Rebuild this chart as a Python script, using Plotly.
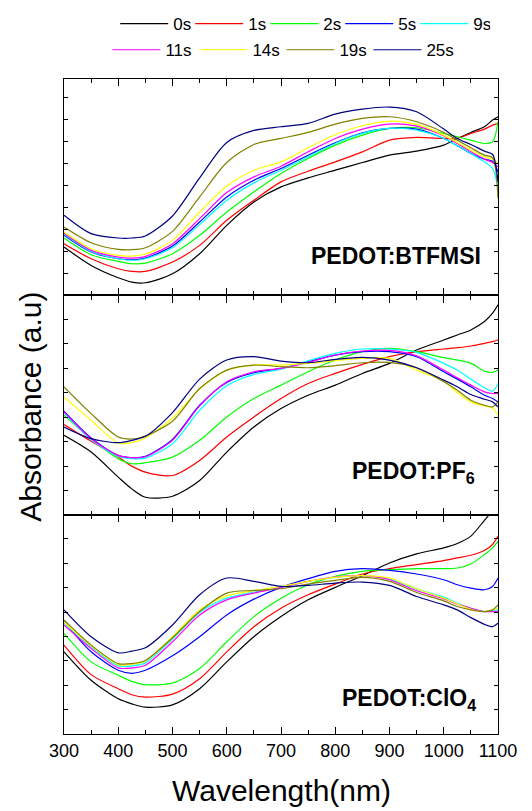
import plotly.graph_objects as go
from plotly.subplots import make_subplots

wavelength = [300, 350, 400, 425, 450, 500, 550, 600, 650, 700, 750, 800, 850, 900, 950, 1000, 1025, 1050, 1075, 1090, 1100]
times = ["0s", "1s", "2s", "5s", "9s", "11s", "14s", "19s", "25s"]
colors = ["#000000", "#FF0000", "#00FF00", "#0000FF", "#00FFFF", "#FF00FF", "#FFFF00", "#808000", "#000080"]

# PEDOT:BTFMSI (top panel), absorbance in arbitrary units
btfmsi = {
    "0s":  [0.145, 0.090, 0.053, 0.040, 0.038, 0.065, 0.125, 0.210, 0.280, 0.325, 0.352, 0.375, 0.398, 0.420, 0.432, 0.450, 0.470, 0.488, 0.505, 0.525, 0.535],
    "1s":  [0.155, 0.110, 0.080, 0.072, 0.072, 0.100, 0.150, 0.225, 0.285, 0.340, 0.372, 0.400, 0.430, 0.465, 0.473, 0.470, 0.470, 0.485, 0.498, 0.510, 0.515],
    "2s":  [0.172, 0.122, 0.102, 0.095, 0.097, 0.125, 0.180, 0.250, 0.310, 0.365, 0.410, 0.450, 0.480, 0.500, 0.502, 0.485, 0.475, 0.465, 0.455, 0.460, 0.520],
    "5s":  [0.180, 0.130, 0.110, 0.107, 0.112, 0.148, 0.220, 0.295, 0.345, 0.380, 0.420, 0.457, 0.487, 0.500, 0.498, 0.470, 0.448, 0.425, 0.408, 0.402, 0.370],
    "9s":  [0.183, 0.132, 0.110, 0.105, 0.110, 0.143, 0.212, 0.285, 0.337, 0.375, 0.415, 0.455, 0.485, 0.500, 0.495, 0.470, 0.448, 0.425, 0.400, 0.380, 0.320],
    "11s": [0.186, 0.135, 0.115, 0.112, 0.117, 0.155, 0.230, 0.308, 0.355, 0.387, 0.430, 0.470, 0.498, 0.513, 0.507, 0.478, 0.455, 0.430, 0.408, 0.398, 0.385],
    "14s": [0.190, 0.140, 0.120, 0.118, 0.124, 0.165, 0.250, 0.328, 0.375, 0.400, 0.442, 0.482, 0.508, 0.522, 0.512, 0.480, 0.458, 0.435, 0.415, 0.408, 0.395],
    "19s": [0.205, 0.158, 0.138, 0.137, 0.143, 0.192, 0.295, 0.398, 0.452, 0.470, 0.488, 0.513, 0.530, 0.535, 0.520, 0.488, 0.465, 0.442, 0.420, 0.412, 0.290],
    "25s": [0.240, 0.185, 0.172, 0.172, 0.178, 0.238, 0.352, 0.458, 0.494, 0.505, 0.515, 0.543, 0.558, 0.564, 0.550, 0.498, 0.470, 0.452, 0.432, 0.422, 0.340],
}

# PEDOT:PF6 (middle panel)
pf6 = {
    "0s":  [0.238, 0.188, 0.113, 0.078, 0.053, 0.056, 0.103, 0.188, 0.263, 0.318, 0.358, 0.388, 0.423, 0.453, 0.493, 0.523, 0.538, 0.553, 0.578, 0.603, 0.628],
    "1s":  [0.270, 0.220, 0.173, 0.146, 0.128, 0.118, 0.163, 0.233, 0.293, 0.348, 0.393, 0.423, 0.450, 0.473, 0.488, 0.496, 0.500, 0.505, 0.513, 0.518, 0.523],
    "2s":  [0.298, 0.228, 0.168, 0.153, 0.156, 0.173, 0.223, 0.293, 0.348, 0.388, 0.428, 0.463, 0.488, 0.498, 0.488, 0.470, 0.463, 0.453, 0.430, 0.426, 0.433],
    "5s":  [0.310, 0.230, 0.178, 0.171, 0.175, 0.226, 0.328, 0.396, 0.425, 0.438, 0.458, 0.478, 0.488, 0.488, 0.473, 0.428, 0.406, 0.383, 0.358, 0.348, 0.338],
    "9s":  [0.305, 0.225, 0.175, 0.168, 0.170, 0.213, 0.313, 0.386, 0.420, 0.436, 0.461, 0.483, 0.496, 0.496, 0.486, 0.453, 0.433, 0.406, 0.380, 0.370, 0.393],
    "11s": [0.308, 0.228, 0.178, 0.171, 0.174, 0.223, 0.326, 0.398, 0.428, 0.438, 0.456, 0.478, 0.490, 0.492, 0.476, 0.433, 0.410, 0.388, 0.368, 0.363, 0.363],
    "14s": [0.353, 0.283, 0.215, 0.216, 0.230, 0.290, 0.376, 0.433, 0.448, 0.448, 0.453, 0.461, 0.468, 0.468, 0.433, 0.400, 0.366, 0.338, 0.326, 0.320, 0.298],
    "19s": [0.383, 0.303, 0.233, 0.227, 0.236, 0.280, 0.378, 0.433, 0.448, 0.443, 0.440, 0.446, 0.455, 0.456, 0.440, 0.398, 0.373, 0.343, 0.328, 0.323, 0.338],
    "25s": [0.263, 0.228, 0.216, 0.223, 0.235, 0.306, 0.406, 0.463, 0.473, 0.460, 0.455, 0.465, 0.471, 0.463, 0.440, 0.403, 0.383, 0.360, 0.346, 0.338, 0.323],
}

# PEDOT:ClO4 (bottom panel)
clo4 = {
    "0s":  [0.245, 0.160, 0.105, 0.090, 0.080, 0.087, 0.135, 0.215, 0.290, 0.350, 0.400, 0.437, 0.472, 0.510, 0.537, 0.555, 0.568, 0.590, 0.637, 0.665, 0.685],
    "1s":  [0.265, 0.177, 0.135, 0.117, 0.110, 0.119, 0.165, 0.245, 0.320, 0.375, 0.415, 0.447, 0.477, 0.493, 0.505, 0.517, 0.525, 0.533, 0.547, 0.565, 0.590],
    "2s":  [0.300, 0.215, 0.175, 0.157, 0.147, 0.152, 0.195, 0.275, 0.350, 0.405, 0.445, 0.470, 0.485, 0.490, 0.493, 0.493, 0.495, 0.507, 0.535, 0.555, 0.575],
    "5s":  [0.335, 0.245, 0.190, 0.181, 0.190, 0.233, 0.290, 0.355, 0.402, 0.437, 0.463, 0.485, 0.493, 0.488, 0.477, 0.460, 0.445, 0.435, 0.430, 0.440, 0.465],
    "9s":  [0.330, 0.260, 0.203, 0.203, 0.212, 0.283, 0.362, 0.405, 0.423, 0.438, 0.455, 0.467, 0.472, 0.462, 0.432, 0.408, 0.390, 0.375, 0.365, 0.368, 0.370],
    "11s": [0.325, 0.255, 0.197, 0.197, 0.205, 0.275, 0.355, 0.400, 0.420, 0.437, 0.455, 0.468, 0.472, 0.460, 0.427, 0.403, 0.387, 0.375, 0.365, 0.365, 0.365],
    "14s": [0.333, 0.263, 0.207, 0.208, 0.218, 0.290, 0.370, 0.412, 0.427, 0.440, 0.455, 0.467, 0.472, 0.465, 0.433, 0.405, 0.388, 0.372, 0.365, 0.370, 0.375],
    "19s": [0.340, 0.265, 0.210, 0.210, 0.219, 0.287, 0.365, 0.420, 0.428, 0.433, 0.447, 0.458, 0.467, 0.455, 0.422, 0.397, 0.380, 0.370, 0.365, 0.370, 0.385],
    "25s": [0.370, 0.290, 0.242, 0.247, 0.257, 0.325, 0.415, 0.465, 0.455, 0.440, 0.443, 0.450, 0.453, 0.443, 0.410, 0.385, 0.370, 0.347, 0.327, 0.320, 0.330],
}

panels = [btfmsi, pf6, clo4]
y_ranges = [[0, 0.648], [0, 0.656], [0, 0.653]]
y_dticks = [0.0657, 0.073, 0.0727]
x_ticks = [300, 400, 500, 600, 700, 800, 900, 1000, 1100]

FONT = "Liberation Sans, Arial, sans-serif"

fig = make_subplots(rows=3, cols=1, shared_xaxes=True, vertical_spacing=0)

for r, data in enumerate(panels, start=1):
    for i, t in enumerate(times):
        fig.add_trace(go.Scatter(
            x=wavelength, y=data[t], mode="lines", name=t,
            line=dict(color=colors[i], width=1.2, shape="spline", smoothing=0.8),
            showlegend=(r == 1),
            legend="legend" if i < 5 else "legend2",
        ), row=r, col=1)

domains = [[0.6695, 1.0], [0.3344, 0.6695], [0.0, 0.3344]]
for r in range(1, 4):
    fig.update_yaxes(row=r, col=1, range=y_ranges[r - 1], domain=domains[r - 1],
                     tick0=0, dtick=y_dticks[r - 1], ticks="inside", ticklen=4,
                     tickcolor="black", showticklabels=False, showgrid=False,
                     zeroline=False, showline=True, linecolor="black", linewidth=1.4,
                     mirror="ticks")
    fig.update_xaxes(row=r, col=1, range=[300, 1100], tickvals=x_ticks,
                     ticks="inside", ticklen=7, tickcolor="black", tickwidth=1,
                     minor=dict(dtick=50, tick0=300, ticks="inside", ticklen=4, tickcolor="black"),
                     showgrid=False, zeroline=False, showline=True, linecolor="black",
                     linewidth=1.4, mirror="ticks",
                     tickfont=dict(family=FONT, size=18, color="black"))

# the page body adds an 8 px offset, so the figure is drawn 8 px smaller
fig.update_layout(
    width=524, height=803,
    margin=dict(l=56, r=34, t=71, b=77, autoexpand=False),
    paper_bgcolor="white", plot_bgcolor="white",
    font=dict(family=FONT, color="black"),
    legend=dict(orientation="h", x=0.118, y=1.084, xanchor="left", yanchor="middle",
                font=dict(family=FONT, size=17), entrywidth=12, itemwidth=48,
                bgcolor="rgba(0,0,0,0)", traceorder="normal"),
    legend2=dict(orientation="h", x=0.1, y=1.044, xanchor="left", yanchor="middle",
                 font=dict(family=FONT, size=17), entrywidth=24, itemwidth=48,
                 bgcolor="rgba(0,0,0,0)", traceorder="normal"),
    annotations=[
        dict(text="Wavelength(nm)", xref="paper", yref="paper", x=0.5, y=-0.0855,
             showarrow=False, font=dict(family=FONT, size=30), xanchor="center", yanchor="middle"),
        dict(text="Absorbance (a.u)", xref="paper", yref="paper", x=-0.078, y=0.5,
             showarrow=False, textangle=-90, font=dict(family=FONT, size=30),
             xanchor="center", yanchor="middle"),
        dict(text="<b>PEDOT:BTFMSI</b>", xref="paper", yref="paper", x=0.965, y=0.730,
             showarrow=False, font=dict(family=FONT, size=23), xanchor="right", yanchor="middle"),
        dict(text="<b>PEDOT:PF<sub>6</sub></b>", xref="paper", yref="paper", x=0.951, y=0.400,
             showarrow=False, font=dict(family=FONT, size=23), xanchor="right", yanchor="middle"),
        dict(text="<b>PEDOT:ClO<sub>4</sub></b>", xref="paper", yref="paper", x=0.955, y=0.052,
             showarrow=False, font=dict(family=FONT, size=23), xanchor="right", yanchor="middle"),
    ],
)

fig.write_html("out.html")
